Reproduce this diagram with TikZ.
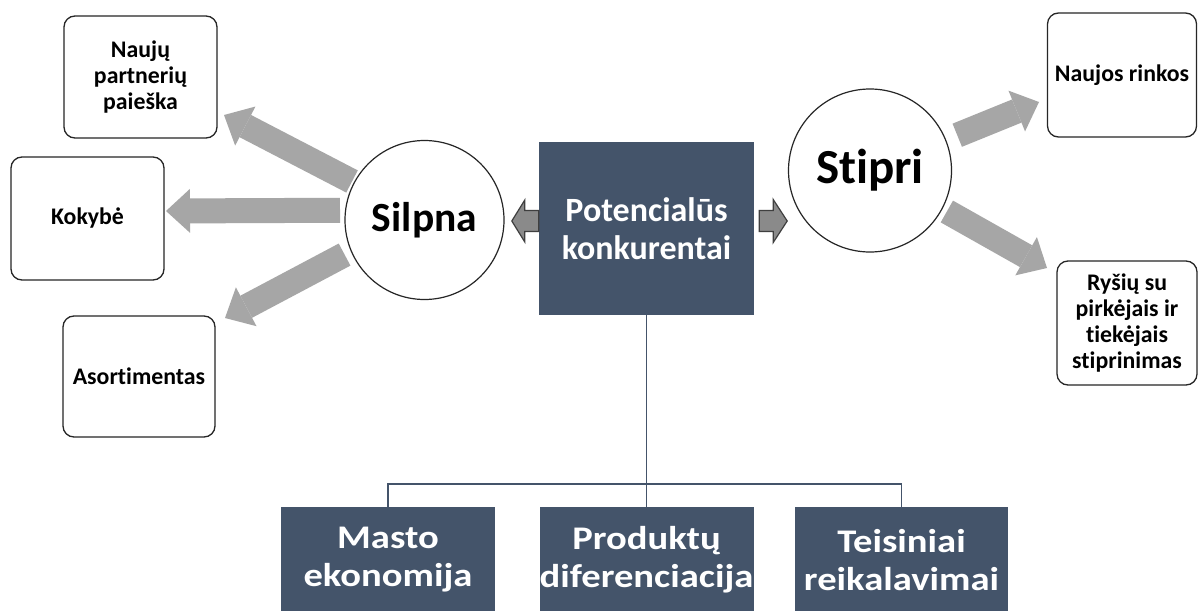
\documentclass[tikz,border=0pt]{standalone}
\usepackage{fontspec}
\setmainfont{Carlito}[Ligatures=NoCommon]
\newfontfamily\widefont[FakeStretch=1.17,Ligatures=NoCommon]{Carlito}
\usetikzlibrary{arrows.meta,calc}
\definecolor{slate}{HTML}{44546A}
\definecolor{arrowgray}{HTML}{A6A6A6}
\definecolor{smallgray}{HTML}{8A8A8A}
\definecolor{edgegray}{HTML}{3F3F3F}
\definecolor{outline}{HTML}{262626}

\begin{document}
\begin{tikzpicture}[x=1pt,y=-1pt,
  option box/.style={draw=outline, line width=1.3pt, rounded corners=11pt, fill=white,
    inner sep=0pt, align=center, font=\bfseries\fontsize{23.8}{26}\selectfont},
  slate box/.style={fill=slate, inner sep=0pt, align=center, text=white,
    minimum width=214pt, minimum height=106pt, font=\widefont\bfseries\fontsize{33}{38}\selectfont},
  pole/.style={circle, draw=outline, line width=1.2pt, fill=white, inner sep=0pt},
  bigarrow/.style={draw=arrowgray, line width=25pt,
    -{Triangle[width=44pt,length=24pt,line width=0pt]}},
  smallarrow/.style={fill=smallgray, draw=edgegray, line width=1.2pt, line join=miter},
  tree/.style={draw=slate, line width=1.5pt}]

\fill[white] (0,0) rectangle (1198,610);
\clip (0,0) rectangle (1198,610);

% centre block
\node[slate box, minimum width=215pt, minimum height=173pt,
  font=\bfseries\fontsize{34}{38}\selectfont] (cbox) at (646.5,228.5)
  {Potencialūs\\konkurentai};

% the two poles
\node[pole, minimum size=159pt, font=\bfseries\fontsize{41.5}{48}\selectfont] (silpna)
  at (424.5,220) {Silpna};
\node[pole, minimum size=163pt, font=\bfseries\fontsize{49}{56}\selectfont] (stipri)
  at (870,170.5) {Stipri};

% outcome boxes
\node[option box, minimum width=153pt, minimum height=122pt] (nauju) at (140.5,77)
  {Naujų\\partnerių\\paieška};
\node[option box, minimum width=153pt, minimum height=123pt] (kokybe) at (87.5,218.5)
  {Kokybė};
\node[option box, minimum width=152pt, minimum height=121pt] (asort) at (139,376.5)
  {Asortimentas};
\node[option box, minimum width=149pt, minimum height=124pt] (rinkos) at (1122,75)
  {Naujos rinkos};
\node[option box, minimum width=140pt, minimum height=124pt] (rysiu) at (1127,323)
  {Ryšių su\\pirkėjais ir\\tiekėjais\\stiprinimas};

% barrier blocks
\node[slate box] (masto) at (388,560) {Masto\\ekonomija};
\node[slate box] (prod) at (646.5,560) {Produktų\\diferenciacija};
\node[slate box, minimum width=213pt] (teis) at (901.5,560) {Teisiniai\\reikalavimai};

% arrow heads of the wide arrows
\coordinate (tipNauju) at (224,115);
\coordinate (tipKokybe) at (166,211);
\coordinate (tipAsort) at (225,318);
\coordinate (tipRinkos) at (1039,102);
\coordinate (tipRysiu) at (1047,268);

\draw[bigarrow, shorten <=2pt] (silpna.152) -- (tipNauju);
\draw[bigarrow, shorten <=5pt] (silpna.173) -- (tipKokybe);
\draw[bigarrow, shorten <=7pt] (silpna.203) -- (tipAsort);
\draw[bigarrow, shorten <=12pt] (stipri.22) -- (tipRinkos);
\draw[bigarrow, shorten <=5pt] (stipri.332) -- (tipRysiu);

% small block arrows out of the centre block
\draw[smallarrow, shift={($(cbox.west)+(0,-7.5)$)}]
  (0,-10.5) -- (-14,-10.5) -- (-14,-21) -- (-27,0) -- (-14,21) -- (-14,10.5) -- (0,10.5) -- cycle;
\draw[smallarrow, shift={($(cbox.east)+(5,-7.5)$)}]
  (0,-10.5) -- (14,-10.5) -- (14,-21.5) -- (28,0) -- (14,21.5) -- (14,10.5) -- (0,10.5) -- cycle;

% tree to the barrier blocks
\coordinate (hub) at (646.5,484);
\draw[tree] (cbox.south) -- (hub);
\draw[tree] (masto.north) |- (hub) -| (teis.north);
\draw[tree] (prod.north) -- (hub);
\end{tikzpicture}
\end{document}
